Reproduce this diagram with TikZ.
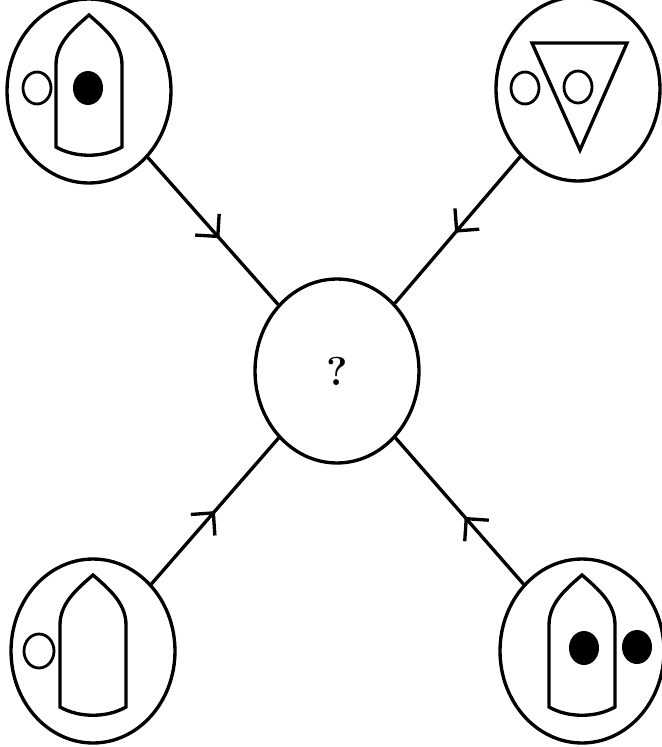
\documentclass[tikz,border=0pt]{standalone}
\usepackage{fontspec}
\usepackage{tikz}
\usetikzlibrary{arrows.meta,decorations.markings,shapes.geometric}
\tikzset{
  state/.style={ellipse,draw,line width=1.9pt,minimum width=3.28cm,
    minimum height=3.68cm,inner sep=0pt},
  flow/.style={line width=1.9pt,postaction={decorate},
    decoration={markings,mark=at position #1 with
      {\arrow{Straight Barb[length=3.2mm,width=6.4mm]}}}},
  flow/.default=0.55,
  hole/.style={line width=1.6pt},
  hull/.pic={
    \draw[line width=1.9pt] (-33,56) -- (-33,-26)
      .. controls (-33,-48) and (-16,-62) .. (0,-76)
      .. controls (16,-62) and (33,-48) .. (33,-26)
      -- (33,56) .. controls (14,67) and (-14,67) .. cycle;
  }
}
\begin{document}
\begin{tikzpicture}[x=0.02cm,y=-0.02cm]
  \useasboundingbox (0,0) rectangle (662,747);
  \node[state] (tl) at (89,91) {};
  \node[state] (tr) at (578,89) {};
  \node[state] (goal) at (337,371) {\raisebox{-2mm}{\fontsize{23}{23}\selectfont\bfseries ?}};
  \node[state] (bl) at (93,651) {};
  \node[state] (br) at (582,651) {};
  % all four lead into the unknown one
  \draw[flow] (tl) -- (goal);
  \draw[flow=0.52] (tr) -- (goal);
  \draw[flow=0.5] (bl) -- (goal);
  \draw[flow=0.46] (br) -- (goal);
  % top left
  \pic at (tl) {hull};
  \draw[hole,shift={(tl)}] (-52,-3) ellipse [x radius=14,y radius=16];
  \fill[shift={(tl)}] (-1,-3) ellipse [x radius=15,y radius=17];
  % top right
  \draw[hole,shift={(tr)}] (-53,-1) ellipse [x radius=14,y radius=16];
  \draw[line width=1.9pt,shift={(tr)}] (-46,-46) -- (49,-46) -- (2,61) -- cycle;
  \draw[hole,shift={(tr)}] (0,-2) ellipse [x radius=14,y radius=16];
  % bottom left
  \pic at (bl) {hull};
  \draw[hole,shift={(bl)}] (-54,0) ellipse [x radius=15,y radius=17];
  % bottom right
  \pic at (br) {hull};
  \fill[shift={(br)}] (2,-3) ellipse [x radius=15,y radius=17];
  \fill[shift={(br)}] (55,-4) ellipse [x radius=15,y radius=17];
\end{tikzpicture}
\end{document}
